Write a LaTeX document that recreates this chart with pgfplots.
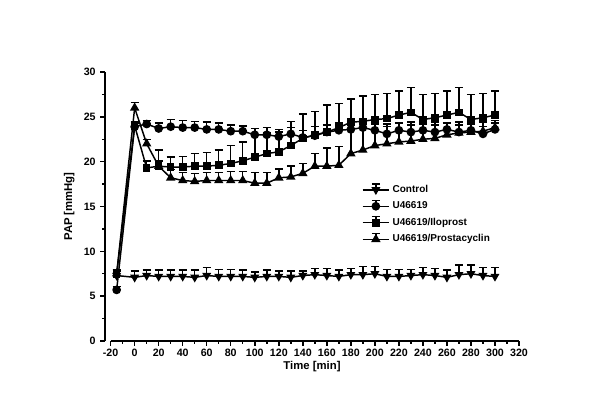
\documentclass[border=0pt]{standalone}
\usepackage{pgfplots}
\pgfplotsset{compat=1.18}
\usepackage{fontspec}
\setmainfont{Liberation Sans}
\begin{document}
\begin{tikzpicture}
\useasboundingbox (-78.75pt,-55.5pt) rectangle (371.25pt,255.75pt);
\begin{axis}[
  scale only axis, width=310.5pt, height=201.75pt,
  xmin=-24.7, xmax=320, ymin=0, ymax=30,
  axis x line*=bottom, axis y line*=left,
  x axis line style={draw=none},
  y axis line style={line width=1.5pt},
  xtick={-20,0,...,320}, minor x tick num=1,
  ytick={0,5,...,30}, minor y tick num=1,
  tick align=outside,
  major tick length=3.5pt, minor tick length=2pt,
  tick style={black, line width=1.1pt},
  /pgf/number format/assume math mode=true,
  tick label style={font=\bfseries\fontsize{8}{9}\selectfont},
  xticklabel style={yshift=1pt},
  label style={font=\bfseries\fontsize{8.5}{10}\selectfont},
  xlabel={Time [min]}, ylabel={PAP [mmHg]},
  xlabel style={yshift=3pt},
  clip=false,
  legend style={draw=none, fill=none, font=\bfseries\fontsize{7.5}{9}\selectfont,
    at={(0.61,0.6)}, anchor=north west, row sep=1.5pt},
  legend cell align=left,
  legend image code/.code={
    \draw[#1, mark=none] (0pt,0pt) -- (20pt,0pt);
    \draw[#1, mark=none] (10pt,0pt) -- (10pt,4.5pt) (7pt,4.5pt) -- (13pt,4.5pt);
    \draw[#1] plot coordinates {(10pt,0pt)};
  },
  every axis plot/.append style={black, line width=1.1pt},
  error bars/y dir=plus, error bars/y explicit,
  error bars/error bar style={line width=1.1pt, solid},
  error bars/error mark options={line width=1.1pt, mark size=3pt, rotate=90},
]
\draw[line width=1.5pt] (axis cs:-20,0) -- (axis cs:320,0);

\addplot[mark=triangle*, mark options={solid, fill=black, rotate=180, mark size=2.8pt}]
 table[x=t, y=y, y error=e] {
t y e
-15 7.3 0.5
0 7.1 0.7
10 7.3 0.6
20 7.2 0.7
30 7.2 0.7
40 7.2 0.7
50 7.1 0.8
60 7.3 0.9
70 7.2 0.8
80 7.2 0.8
90 7.2 0.7
100 7.1 0.6
110 7.2 0.7
120 7.2 0.6
130 7.1 0.7
140 7.3 0.5
150 7.4 0.7
160 7.3 0.8
170 7.2 0.7
180 7.4 0.7
190 7.4 0.9
200 7.5 0.8
210 7.2 0.8
220 7.2 0.8
230 7.3 0.7
240 7.4 0.8
250 7.3 0.8
260 7.1 0.8
270 7.4 1.1
280 7.5 1.0
290 7.3 0.9
300 7.2 1.0
};
\addlegendentry{Control}

\addplot[mark=*, mark options={solid, fill=black, mark size=2.7pt}]
 table[x=t, y=y, y error=e] {
t y e
-15 5.7 0.4
0 23.9 0.4
10 24.2 0.4
20 23.7 0.6
30 23.9 0.8
40 23.8 0.8
50 23.8 0.7
60 23.6 0.8
70 23.6 0.7
80 23.4 0.7
90 23.4 0.6
100 23.0 0.7
110 23.0 0.8
120 22.8 0.8
130 23.1 0.7
140 22.7 0.8
150 22.9 1.0
160 23.3 0.8
170 23.5 0.8
180 23.6 0.8
190 23.8 0.8
200 23.5 0.8
210 23.1 0.8
220 23.5 0.8
230 23.3 0.8
240 23.5 0.7
250 23.3 0.8
260 23.6 0.7
270 23.3 0.8
280 23.5 0.7
290 23.1 0.8
300 23.6 0.7
};
\addlegendentry{U46619}

\addplot[mark=square*, mark options={solid, fill=black, mark size=2.3pt}]
 table[x=t, y=y, y error=e] {
t y e
-15 7.5 0.4
0 24.0 0.4
10 19.3 0.8
20 19.5 1.8
30 19.4 1.1
40 19.4 1.2
50 19.5 1.4
60 19.5 1.5
70 19.6 1.7
80 19.8 2.0
90 20.1 2.1
100 20.5 2.5
110 20.9 2.3
120 21.1 2.2
130 21.8 2.7
140 22.6 2.7
150 23.0 2.6
160 23.3 3.0
170 23.8 2.7
180 24.4 2.6
190 24.5 2.8
200 24.7 2.8
210 24.8 2.8
220 25.2 2.7
230 25.5 2.8
240 24.7 2.8
250 24.9 2.7
260 25.2 2.7
270 25.5 2.8
280 24.7 2.8
290 24.9 2.7
300 25.2 2.7
};
\addlegendentry{U46619/Iloprost}

\addplot[mark=triangle*, mark options={solid, fill=black, mark size=3pt}]
 table[x=t, y=y, y error=e] {
t y e
-15 7.5 0.5
0 26.0 0.6
10 22.0 0.5
20 19.5 0.6
30 18.2 0.9
40 17.9 0.9
50 17.8 0.9
60 17.9 0.9
70 17.9 0.9
80 17.9 1.0
90 17.9 1.0
100 17.6 1.2
110 17.6 1.2
120 18.2 1.0
130 18.3 1.2
140 18.7 1.1
150 19.5 1.4
160 19.5 2.0
170 19.6 2.1
180 20.9 3.3
190 21.3 2.9
200 21.8 2.4
210 22.0 2.2
220 22.2 2.1
230 22.3 2.1
240 22.5 1.9
250 22.6 1.8
260 23.0 1.3
270 23.2 1.2
280 23.3 1.1
290 23.4 1.0
300 23.8 0.8
};
\addlegendentry{U46619/Prostacyclin}
\end{axis}
\end{tikzpicture}
\end{document}
